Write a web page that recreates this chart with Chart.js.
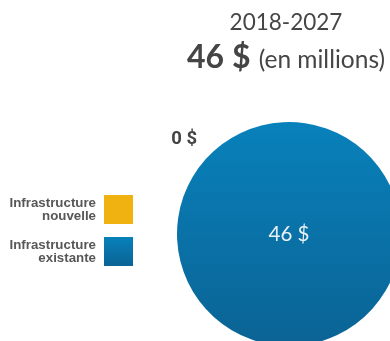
<!DOCTYPE html>
<html lang="fr">
<head>
<meta charset="utf-8">
<script src="https://cdn.jsdelivr.net/npm/chart.js@4.4.1/dist/chart.umd.min.js"></script>
<style>
  html, body { margin: 0; padding: 0; background: #fff; }
  #wrap { position: relative; width: 390px; height: 341px; overflow: hidden; }
  #chart { position: absolute; left: 0; top: 0; }
  .title { position: absolute; left: 182px; width: 208px; text-align: center; color: #454545; font-family: Lato, "Open Sans", sans-serif; white-space: nowrap; }
  #period { top: 9px; font-size: 22.5px; line-height: 26px; }
  #total { top: 36px; font-size: 32px; line-height: 40px; }
  #total b { font-weight: 700; }
  #total span { font-size: 24.5px; }
  #legend { position: absolute; left: 0; top: 195px; font-family: "Liberation Sans", Arial, sans-serif; }
  .item { display: flex; align-items: center; justify-content: flex-end; width: 133px; margin-bottom: 13px; }
  .item span { text-align: right; font-weight: 700; font-size: 13.3px; line-height: 12.5px; color: #575757; margin-right: 8px; }
  .item i { display: block; width: 29px; height: 29px; }
</style>
</head>
<body>
<div id="wrap">
  <canvas id="chart" width="390" height="341"></canvas>
  <div class="title" id="period"></div>
  <div class="title" id="total"></div>
  <div id="legend"></div>
</div>
<script>
// Répartition des investissements 2018-2027 (en millions de $)
const period = '2018-2027';
const unitText = '(en millions)';
const categories = ['Infrastructure nouvelle', 'Infrastructure existante'];
const legendLines = [['Infrastructure', 'nouvelle'], ['Infrastructure', 'existante']];
const values = [0, 46];
const total = values.reduce((a, b) => a + b, 0);

const money = v => v + ' $';

// Title block
document.getElementById('period').textContent = period;
document.getElementById('total').innerHTML = '<b>' + money(total) + '</b> <span>' + unitText + '</span>';

// Colours: flat yellow and a vertical blue gradient
const yellow = '#efb211';
const blueTop = '#0881bb';
const blueBottom = '#0b6394';

// Legend (text left of swatch, right aligned)
const legendEl = document.getElementById('legend');
categories.forEach((c, i) => {
  const row = document.createElement('div');
  row.className = 'item';
  const txt = document.createElement('span');
  txt.innerHTML = legendLines[i].join('<br>');
  const sw = document.createElement('i');
  sw.style.background = i === 0 ? yellow : 'linear-gradient(' + blueTop + ',' + blueBottom + ')';
  row.appendChild(txt);
  row.appendChild(sw);
  legendEl.appendChild(row);
});

const PIE_RADIUS = 112;

function sliceFill(context) {
  const chart = context.chart;
  const area = chart.chartArea;
  if (!area) return blueTop;
  if (context.dataIndex === 0) return yellow;
  const cy = (area.top + area.bottom) / 2;
  const g = chart.ctx.createLinearGradient(0, cy - PIE_RADIUS, 0, cy + PIE_RADIUS);
  g.addColorStop(0, blueTop);
  g.addColorStop(1, blueBottom);
  return g;
}

// Value labels: inside for the filled slice, outside for an empty one
const sliceLabels = {
  id: 'sliceLabels',
  afterDatasetsDraw(chart) {
    const ctx = chart.ctx;
    const meta = chart.getDatasetMeta(0);
    const data = chart.data.datasets[0].data;
    meta.data.forEach((arc, i) => {
      const p = arc.getProps(['x', 'y', 'startAngle', 'endAngle', 'outerRadius', 'circumference']);
      const v = data[i];
      ctx.save();
      ctx.textAlign = 'center';
      ctx.textBaseline = 'middle';
      if (v === 0) {
        const a = p.startAngle;
        const d = p.outerRadius + 29;
        ctx.font = 'bold 18.5px Roboto, "Liberation Sans", sans-serif';
        ctx.fillStyle = '#444';
        ctx.fillText(money(v), p.x + Math.cos(a) * d, p.y + Math.sin(a) * d);
      } else {
        let x = p.x, y = p.y;
        if (p.circumference < Math.PI * 2 - 1e-6) {
          const a = (p.startAngle + p.endAngle) / 2;
          x += Math.cos(a) * p.outerRadius * 0.6;
          y += Math.sin(a) * p.outerRadius * 0.6;
        }
        ctx.font = '20.5px Lato, "Open Sans", sans-serif';
        ctx.fillStyle = '#e8f0f6';
        ctx.fillText(money(v), x, y);
      }
      ctx.restore();
    });
  }
};

new Chart(document.getElementById('chart'), {
  type: 'pie',
  data: {
    labels: categories,
    datasets: [{
      data: values,
      backgroundColor: sliceFill,
      borderWidth: 0,
      clip: false
    }]
  },
  options: {
    responsive: false,
    animation: false,
    rotation: -48,
    radius: PIE_RADIUS,
    layout: { padding: { left: 188, top: 127, right: 0, bottom: 0 } },
    plugins: {
      legend: { display: false },
      tooltip: { enabled: false }
    }
  },
  plugins: [sliceLabels]
});
</script>
</body>
</html>
